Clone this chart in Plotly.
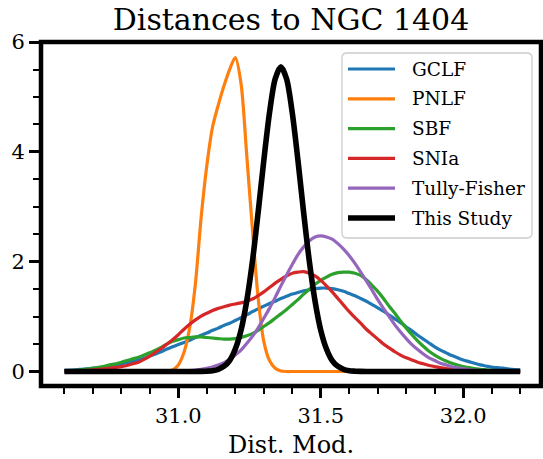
import plotly.graph_objects as go

DIST_MOD = [30.60, 30.62, 30.64, 30.66, 30.68, 30.70, 30.72, 30.74, 30.76, 30.78,
            30.80, 30.82, 30.84, 30.86, 30.88, 30.90, 30.92, 30.94, 30.96, 30.98,
            31.00, 31.02, 31.04, 31.06, 31.08, 31.10, 31.12, 31.14, 31.16, 31.18,
            31.20, 31.22, 31.24, 31.26, 31.28, 31.30, 31.32, 31.34, 31.36, 31.38,
            31.40, 31.42, 31.44, 31.46, 31.48, 31.50, 31.52, 31.54, 31.56, 31.58,
            31.60, 31.62, 31.64, 31.66, 31.68, 31.70, 31.72, 31.74, 31.76, 31.78,
            31.80, 31.82, 31.84, 31.86, 31.88, 31.90, 31.92, 31.94, 31.96, 31.98,
            32.00, 32.02, 32.04, 32.06, 32.08, 32.10, 32.12, 32.14, 32.16, 32.18, 32.20]

GCLF = [0.02, 0.025, 0.03, 0.04, 0.05, 0.06, 0.07, 0.08, 0.10, 0.12,
        0.14, 0.16, 0.18, 0.21, 0.24, 0.28, 0.32, 0.36, 0.41, 0.45,
        0.49, 0.53, 0.57, 0.62, 0.66, 0.70, 0.75, 0.79, 0.84, 0.88,
        0.93, 0.98, 1.03, 1.09, 1.14, 1.19, 1.24, 1.28, 1.33, 1.37,
        1.41, 1.44, 1.47, 1.49, 1.51, 1.52, 1.52, 1.51, 1.49, 1.46,
        1.42, 1.38, 1.33, 1.28, 1.22, 1.16, 1.10, 1.03, 0.96, 0.89,
        0.81, 0.74, 0.66, 0.59, 0.52, 0.45, 0.39, 0.34, 0.29, 0.25,
        0.21, 0.18, 0.15, 0.12, 0.10, 0.08, 0.07, 0.06, 0.045, 0.035, 0.03]

PNLF = [0, 0, 0, 0, 0, 0, 0, 0, 0, 0,
        0, 0, 0, 0, 0, 0, 0, 0, 0.0, 0.03,
        0.12, 0.35, 0.8, 1.6, 2.8, 3.75, 4.45, 4.85, 5.2, 5.5,
        5.72, 5.25, 3.95, 2.6, 1.35, 0.55, 0.2, 0.06, 0.01, 0,
        0, 0, 0, 0, 0, 0, 0, 0, 0, 0,
        0, 0, 0, 0, 0, 0, 0, 0, 0, 0,
        0, 0, 0, 0, 0, 0, 0, 0, 0, 0,
        0, 0, 0, 0, 0, 0, 0, 0, 0, 0, 0]

SBF = [0.01, 0.015, 0.02, 0.03, 0.045, 0.06, 0.075, 0.095, 0.12, 0.14,
       0.17, 0.20, 0.23, 0.26, 0.30, 0.34, 0.39, 0.44, 0.50, 0.55,
       0.58, 0.61, 0.62, 0.63, 0.63, 0.62, 0.61, 0.60, 0.59, 0.59,
       0.60, 0.62, 0.65, 0.69, 0.75, 0.82, 0.89, 0.97, 1.05, 1.13,
       1.22, 1.31, 1.41, 1.50, 1.59, 1.66, 1.72, 1.77, 1.80, 1.81,
       1.81, 1.79, 1.75, 1.67, 1.57, 1.46, 1.33, 1.19, 1.06, 0.92,
       0.79, 0.67, 0.56, 0.46, 0.37, 0.30, 0.24, 0.19, 0.15, 0.12,
       0.09, 0.07, 0.055, 0.04, 0.03, 0.02, 0.015, 0.01, 0.005, 0.003, 0.002]

SNIA = [0.005, 0.007, 0.01, 0.015, 0.02, 0.03, 0.04, 0.05, 0.06, 0.075,
        0.09, 0.11, 0.14, 0.17, 0.22, 0.28, 0.35, 0.42, 0.50, 0.58,
        0.67, 0.77, 0.86, 0.94, 1.01, 1.06, 1.11, 1.15, 1.18, 1.21,
        1.23, 1.25, 1.28, 1.32, 1.38, 1.45, 1.53, 1.61, 1.68, 1.74,
        1.79, 1.81, 1.82, 1.79, 1.74, 1.66, 1.56, 1.45, 1.33, 1.21,
        1.09, 0.98, 0.88, 0.77, 0.68, 0.59, 0.50, 0.43, 0.36, 0.30,
        0.25, 0.21, 0.17, 0.14, 0.11, 0.09, 0.07, 0.055, 0.045, 0.035,
        0.025, 0.02, 0.015, 0.01, 0.008, 0.006, 0.004, 0.003, 0.002, 0.001, 0.001]

TULLY_FISHER = [0, 0, 0, 0, 0, 0, 0, 0, 0, 0,
                0, 0, 0, 0, 0, 0, 0, 0, 0, 0.004,
                0.007, 0.011, 0.017, 0.026, 0.039, 0.058, 0.083, 0.12, 0.16, 0.22,
                0.30, 0.39, 0.51, 0.64, 0.79, 0.97, 1.15, 1.35, 1.56, 1.76,
                1.95, 2.13, 2.27, 2.38, 2.45, 2.47, 2.45, 2.41, 2.33, 2.23,
                2.11, 1.97, 1.81, 1.65, 1.48, 1.31, 1.15, 1.00, 0.85, 0.72,
                0.60, 0.49, 0.40, 0.32, 0.25, 0.20, 0.15, 0.12, 0.088, 0.065,
                0.048, 0.035, 0.025, 0.018, 0.012, 0.009, 0.006, 0.004, 0.003, 0.002, 0.001]

THIS_STUDY = [0, 0, 0, 0, 0, 0, 0, 0, 0, 0,
              0, 0, 0, 0, 0, 0, 0, 0, 0, 0,
              0, 0, 0, 0, 0.002, 0.006, 0.015, 0.04, 0.094, 0.20,
              0.41, 0.75, 1.28, 2.00, 2.89, 3.84, 4.71, 5.33, 5.55, 5.33,
              4.71, 3.84, 2.89, 2.00, 1.28, 0.75, 0.41, 0.20, 0.094, 0.04,
              0.015, 0.006, 0.002, 0, 0, 0, 0, 0, 0, 0,
              0, 0, 0, 0, 0, 0, 0, 0, 0, 0,
              0, 0, 0, 0, 0, 0, 0, 0, 0, 0, 0]

SERIES_NAMES = ["GCLF", "PNLF", "SBF", "SNIa", "Tully-Fisher", "This Study"]
SERIES_VALUES = [GCLF, PNLF, SBF, SNIA, TULLY_FISHER, THIS_STUDY]
COLORS = ["#1f77b4", "#ff7f0e", "#2ca02c", "#d62728", "#9467bd", "#000000"]
WIDTHS = [3.2, 3.2, 3.2, 3.2, 3.2, 5.6]

FONT = "DejaVu Serif"

# figure geometry (pixels)
W, H = 543, 459
ML, MR, MT, MB = 41, 2, 42, 73
PW, PH = W - ML - MR, H - MT - MB


def px_to_paper(xp, yp):
    return (xp - ML) / PW, (H - MB - yp) / PH


fig = go.Figure()
for name, vals, col, w in zip(SERIES_NAMES, SERIES_VALUES, COLORS, WIDTHS):
    fig.add_trace(go.Scatter(x=DIST_MOD, y=vals, mode="lines", name=name, showlegend=False,
                             line=dict(color=col, width=w, shape="spline", smoothing=0.8)))

# axes frame
fig.add_shape(type="rect", xref="paper", yref="paper", x0=0, x1=1, y0=0, y1=1,
              line=dict(color="black", width=4.5), layer="above")

# legend box (rounded), matplotlib-style
lx0, ly1 = px_to_paper(342, 53)
lx1, ly0 = px_to_paper(532, 238)
rx, ry = 5 / PW, 5 / PH
path = (f"M {lx0 + rx},{ly0} L {lx1 - rx},{ly0} Q {lx1},{ly0} {lx1},{ly0 + ry} "
        f"L {lx1},{ly1 - ry} Q {lx1},{ly1} {lx1 - rx},{ly1} L {lx0 + rx},{ly1} "
        f"Q {lx0},{ly1} {lx0},{ly1 - ry} L {lx0},{ly0 + ry} Q {lx0},{ly0} {lx0 + rx},{ly0} Z")
fig.add_shape(type="path", xref="paper", yref="paper", path=path,
              fillcolor="rgba(255,255,255,0.8)", line=dict(color="#cccccc", width=1.3),
              layer="above")

for i, (name, col, w) in enumerate(zip(SERIES_NAMES, COLORS, WIDTHS)):
    yc = 69 + 29.8 * i
    xa, ya = px_to_paper(348, yc)
    xb, _ = px_to_paper(395, yc)
    xt, _ = px_to_paper(410, yc)
    fig.add_shape(type="line", xref="paper", yref="paper", x0=xa, x1=xb, y0=ya, y1=ya,
                  line=dict(color=col, width=w), layer="above")
    fig.add_annotation(text=name, xref="paper", yref="paper", x=xt, y=ya,
                       xanchor="left", yanchor="middle", showarrow=False,
                       font=dict(family=FONT, size=18.5, color="black"))

fig.update_layout(
    width=W, height=H,
    margin=dict(l=ML, r=MR, t=MT, b=MB),
    plot_bgcolor="white", paper_bgcolor="white",
    font=dict(family=FONT, color="black"),
    title=dict(text="Distances to NGC 1404", font=dict(family=FONT, size=30, color="black"),
               x=0.5, xref="paper", xanchor="center", y=1 - 19 / H, yref="container",
               yanchor="middle"),
    showlegend=False,
)

fig.update_xaxes(range=[30.518, 32.273], tick0=31.0, dtick=0.5, tickformat=".1f",
                 ticks="outside", ticklen=11, tickwidth=2.5, tickcolor="black",
                 showgrid=False, zeroline=False, showline=False,
                 tickfont=dict(family=FONT, size=21, color="black"),
                 minor=dict(ticks="outside", tick0=31.0, dtick=0.1, ticklen=7, tickwidth=1.6,
                            tickcolor="black", showgrid=False),
                 title=dict(text="Dist. Mod.", font=dict(family=FONT, size=24, color="black"),
                            standoff=13))

fig.update_yaxes(range=[-0.264, 6.002], tick0=0, dtick=2,
                 ticks="outside", ticklen=11, tickwidth=2.5, tickcolor="black",
                 showgrid=False, zeroline=False, showline=False,
                 tickfont=dict(family=FONT, size=21, color="black"),
                 minor=dict(ticks="outside", tick0=0, dtick=0.5, ticklen=7, tickwidth=1.6,
                            tickcolor="black", showgrid=False))

fig.write_html("out.html")
